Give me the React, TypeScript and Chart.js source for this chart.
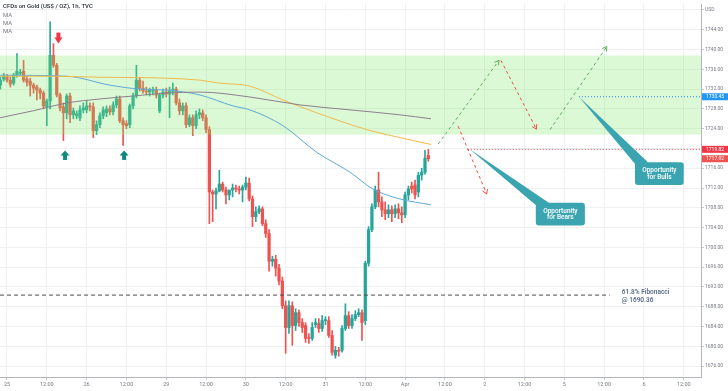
import React, { useEffect, useRef } from 'react';
import { Chart, registerables } from 'chart.js';

Chart.register(...registerables);

// ---------- data ----------
const START_INDEX = -2;

const OPEN = [
  1732.8, 1734.0, 1734.6, 1733.8, 1733.2, 1734.8, 1735.2, 1735.6, 1734.0, 1733.6,
  1732.8, 1732.4, 1731.8, 1731.2, 1728.4, 1729.6, 1738.8, 1736.8, 1730.8, 1728.4,
  1727.2, 1730.6, 1726.8, 1726.6, 1726.2, 1727.8, 1727.8, 1728.6, 1728.4, 1723.6,
  1724.8, 1726.6, 1727.2, 1728.0, 1727.4, 1728.8, 1730.0, 1725.6, 1725.0, 1724.8,
  1728.6, 1730.6, 1733.8, 1732.2, 1731.6, 1731.4, 1731.6, 1731.8, 1727.6, 1730.8,
  1731.4, 1731.0, 1731.6, 1732.0, 1729.2, 1727.6, 1728.6, 1724.8, 1726.2, 1724.6,
  1726.8, 1727.2, 1726.2, 1723.8, 1711.2, 1710.8, 1711.4, 1712.8, 1711.6, 1710.6,
  1711.6, 1712.0, 1711.8, 1711.6, 1712.2, 1713.0, 1709.8, 1706.2, 1707.2, 1707.8,
  1704.8, 1702.8, 1697.2, 1697.6, 1695.8, 1693.2, 1688.2, 1683.8, 1688.2, 1684.2,
  1686.8, 1684.8, 1684.2, 1681.8, 1681.6, 1684.4, 1684.6, 1683.6, 1685.2, 1685.2,
  1682.2, 1678.2, 1679.2, 1679.2, 1683.6, 1686.2, 1684.2, 1685.6, 1686.4, 1686.8,
  1685.2, 1696.8, 1703.6, 1708.2, 1711.6, 1709.2, 1707.6, 1706.8, 1707.6, 1706.8,
  1707.8, 1707.0, 1706.6, 1710.6, 1712.4, 1712.6, 1711.2, 1714.6, 1715.2, 1718.6,
];
const HIGH = [
  1734.4, 1735.2, 1735.0, 1734.4, 1735.2, 1739.2, 1736.0, 1737.8, 1734.6, 1734.2,
  1733.2, 1732.8, 1732.2, 1731.6, 1730.0, 1745.6, 1741.2, 1737.2, 1731.2, 1729.2,
  1731.0, 1731.2, 1728.2, 1727.6, 1728.6, 1729.2, 1729.6, 1729.2, 1729.2, 1725.6,
  1727.2, 1728.4, 1728.6, 1728.6, 1729.4, 1730.6, 1730.6, 1726.2, 1725.6, 1729.0,
  1731.2, 1736.8, 1734.4, 1733.6, 1732.4, 1732.2, 1732.4, 1732.4, 1731.2, 1732.0,
  1732.2, 1732.4, 1733.2, 1732.4, 1730.0, 1729.2, 1729.2, 1726.8, 1726.8, 1727.6,
  1728.0, 1727.8, 1726.8, 1724.4, 1711.6, 1712.0, 1715.6, 1713.2, 1712.2, 1711.6,
  1712.8, 1712.6, 1712.4, 1712.6, 1714.2, 1714.0, 1710.4, 1708.2, 1708.4, 1708.2,
  1705.6, 1703.6, 1698.2, 1698.4, 1696.6, 1694.0, 1689.2, 1689.2, 1689.0, 1687.6,
  1687.4, 1685.6, 1684.8, 1682.6, 1684.8, 1685.6, 1685.6, 1686.2, 1686.0, 1686.0,
  1683.2, 1680.0, 1679.8, 1684.2, 1688.6, 1687.0, 1686.4, 1687.2, 1687.6, 1687.4,
  1697.2, 1704.2, 1708.8, 1712.4, 1715.2, 1710.2, 1709.2, 1708.6, 1708.4, 1708.6,
  1708.8, 1708.2, 1711.2, 1712.4, 1713.2, 1713.6, 1715.2, 1716.0, 1719.6, 1719.82,
];
const LOW = [
  1732.0, 1733.6, 1733.4, 1732.4, 1732.8, 1734.4, 1734.8, 1733.4, 1732.6, 1730.6,
  1731.2, 1729.8, 1730.0, 1728.0, 1724.6, 1728.0, 1736.4, 1730.4, 1727.6, 1721.6,
  1726.0, 1725.2, 1726.0, 1726.0, 1725.6, 1727.2, 1727.2, 1727.6, 1722.2, 1722.8,
  1724.2, 1726.0, 1726.4, 1726.8, 1726.8, 1728.2, 1725.2, 1720.6, 1724.0, 1724.2,
  1728.0, 1730.2, 1731.6, 1731.2, 1730.8, 1730.6, 1730.8, 1730.2, 1727.2, 1730.2,
  1730.4, 1726.2, 1730.8, 1728.8, 1726.8, 1726.8, 1724.2, 1724.4, 1722.6, 1724.0,
  1726.0, 1725.6, 1723.2, 1704.8, 1705.2, 1707.8, 1711.2, 1711.2, 1708.8, 1709.6,
  1710.2, 1711.2, 1710.8, 1709.2, 1711.6, 1709.4, 1704.2, 1705.2, 1706.8, 1704.4,
  1702.0, 1695.2, 1696.2, 1694.2, 1692.4, 1687.6, 1678.6, 1682.6, 1680.2, 1683.2,
  1684.0, 1682.8, 1680.8, 1680.6, 1681.2, 1683.8, 1682.8, 1683.0, 1684.4, 1681.8,
  1678.2, 1677.6, 1678.0, 1678.8, 1683.2, 1683.6, 1683.6, 1685.2, 1686.0, 1681.2,
  1684.4, 1696.2, 1703.2, 1707.8, 1708.2, 1706.2, 1705.6, 1706.0, 1705.2, 1706.0,
  1705.8, 1705.0, 1706.0, 1709.6, 1711.0, 1709.8, 1710.2, 1713.6, 1714.8, 1717.4,
];
const CLOSE = [
  1733.8, 1734.6, 1733.8, 1733.0, 1734.8, 1735.6, 1735.4, 1733.8, 1733.4, 1732.8,
  1732.2, 1731.8, 1731.2, 1728.6, 1729.6, 1738.8, 1736.8, 1730.8, 1728.2, 1727.2,
  1730.6, 1726.8, 1727.6, 1727.0, 1727.8, 1728.2, 1728.6, 1728.4, 1723.6, 1724.8,
  1726.6, 1727.8, 1728.0, 1727.4, 1728.8, 1730.0, 1725.6, 1724.8, 1724.6, 1728.6,
  1730.6, 1733.8, 1732.2, 1731.6, 1731.4, 1731.8, 1731.8, 1730.8, 1730.8, 1731.4,
  1731.0, 1731.6, 1732.0, 1729.2, 1727.6, 1728.6, 1724.8, 1726.2, 1724.6, 1726.8,
  1727.2, 1726.2, 1723.8, 1711.2, 1710.8, 1711.4, 1712.8, 1711.6, 1710.6, 1711.6,
  1712.0, 1711.8, 1711.6, 1712.2, 1713.0, 1709.8, 1706.2, 1707.2, 1707.8, 1704.8,
  1702.8, 1697.2, 1697.6, 1695.8, 1693.2, 1688.2, 1683.8, 1688.2, 1684.2, 1686.8,
  1684.8, 1683.8, 1681.6, 1681.6, 1683.8, 1684.8, 1683.6, 1685.2, 1685.4, 1682.2,
  1678.8, 1679.2, 1679.0, 1683.6, 1686.2, 1684.2, 1685.6, 1686.4, 1686.8, 1684.8,
  1696.8, 1703.6, 1708.2, 1711.6, 1709.2, 1707.6, 1706.8, 1707.6, 1706.8, 1707.8,
  1707.0, 1706.6, 1710.6, 1711.8, 1711.8, 1710.6, 1714.6, 1715.2, 1718.0, 1717.92,
];

const MA_BLUE_X = [-2.1, 18.1, 31.0, 40.1, 48.2, 58.2, 68.1, 73.2, 83.2, 93.4, 103.4, 110.3, 118.4, 127.8];
const MA_BLUE_Y = [1734.8, 1734.6, 1732.8, 1732.0, 1731.8, 1730.8, 1728.6, 1727.8, 1724.6, 1719.2, 1715.2, 1711.8, 1709.8, 1708.6];
const MA_YELLOW_X = [-2.1, 13.0, 28.0, 48.2, 58.2, 64.2, 73.2, 83.2, 93.4, 108.5, 118.4, 127.8];
const MA_YELLOW_Y = [1734.6, 1734.6, 1734.4, 1734.2, 1733.8, 1733.2, 1732.6, 1729.8, 1727.2, 1723.8, 1722.2, 1720.8];
const MA_GRAY_X = [-2.1, 7.8, 18.1, 28.0, 38.0, 48.2, 58.2, 73.2, 88.3, 103.4, 118.4, 127.8];
const MA_GRAY_Y = [1726.2, 1727.6, 1729.2, 1730.0, 1730.6, 1731.2, 1731.4, 1730.4, 1728.8, 1727.8, 1726.8, 1726.0];

const GREEN_PATH_1_X = [130.0, 148.3];
const GREEN_PATH_1_Y = [1720.9, 1737.8];
const RED_PATH_1_X = [148.9, 159.6];
const RED_PATH_1_Y = [1737.8, 1723.9];
const GREEN_PATH_2_X = [163.7, 180.8];
const GREEN_PATH_2_Y = [1723.8, 1740.6];
const RED_PATH_2_X = [136.0, 144.6];
const RED_PATH_2_Y = [1724.5, 1710.8];

const ZONE_LOW = 1722.8;
const ZONE_HIGH = 1738.8;
const FIB_LEVEL = 1690.36;
const FIB_RANGE = [-2.1, 181.7];
const BEAR_LEVEL = 1719.82;
const BEAR_LEVEL_START = 138.9;
const BULL_LEVEL = 1730.45;
const BULL_LEVEL_START = 172.4;
const LAST_PRICE = 1717.92;

const X_MIN = -2.11;
const X_MAX = 209.2;
const Y_MIN = 1673.8;
const Y_MAX = 1749.2;

const X_TICK_INDEX = [0, 12, 24, 36, 48, 60, 72, 84, 96, 108, 120, 132, 144, 156, 168, 180, 192, 204];
const X_TICK_LABELS = ['25', '12:00', '26', '12:00', '29', '12:00', '30', '12:00', '31', '12:00', 'Apr', '12:00', '2', '12:00', '5', '12:00', '6', '12:00'];
const Y_TICKS = [1676, 1680, 1684, 1688, 1692, 1696, 1700, 1704, 1708, 1712, 1716, 1720, 1724, 1728, 1732, 1736, 1740, 1744, 1748];

const BEAR_CALLOUT = { tip: [139.5, 1719.82], box: [159.4, 1709.0, 174.2, 1704.4], text: ['Opportunity', 'for Bears'] };
const BULL_CALLOUT = { tip: [172.4, 1730.45], box: [189.3, 1717.2, 204.0, 1712.6], text: ['Opportunity', 'for Bulls'] };
const DOWN_MARKERS = [[15.5, 1741.2]];
const UP_MARKERS = [[17.5, 1719.6], [35.3, 1719.6]];

const TITLE = 'CFDs on Gold (US$ / OZ), 1h, TVC';
const FIB_TEXT = ['61.8% Fibonacci', '@ 1690.36'];

// ---------- colours ----------
const UP = '#26a69a';
const DOWN = '#ef5350';
const GREEN_DASH = '#5aae55';
const RED_DASH = '#ec4a44';
const CALLOUT = '#3ba4b1';

const pts = (xs: number[], ys: number[]) => xs.map((x, k) => ({ x, y: ys[k] }));

function arrowHead(ctx: CanvasRenderingContext2D, x1: number, y1: number, x2: number, y2: number, color: string) {
  const ang = Math.atan2(y2 - y1, x2 - x1);
  const L = 5;
  ctx.save();
  ctx.strokeStyle = color;
  ctx.lineWidth = 1;
  ctx.setLineDash([]);
  ctx.beginPath();
  ctx.moveTo(x2 - L * Math.cos(ang - 0.55), y2 - L * Math.sin(ang - 0.55));
  ctx.lineTo(x2, y2);
  ctx.lineTo(x2 - L * Math.cos(ang + 0.55), y2 - L * Math.sin(ang + 0.55));
  ctx.stroke();
  ctx.restore();
}

const overlayPlugin = {
  id: 'overlay',
  afterDatasetDraw(chart: any, args: any) {
    if (args.index !== 1) return;
    const { ctx, chartArea: a, scales } = chart;
    const t = scales.y.getPixelForValue(ZONE_HIGH);
    const b = scales.y.getPixelForValue(ZONE_LOW);
    ctx.save();
    ctx.fillStyle = 'rgba(125, 232, 100, 0.28)';
    ctx.fillRect(a.left, t, a.right - a.left, b - t);
    ctx.restore();
  },
  afterDraw(chart: any) {
    const { ctx, scales, chartArea: a } = chart;
    const px = (v: number) => scales.x.getPixelForValue(v);
    const py = (v: number) => scales.y.getPixelForValue(v);
    ctx.save();

    // arrow heads of projections
    const paths: [number[], number[], string][] = [
      [GREEN_PATH_1_X, GREEN_PATH_1_Y, GREEN_DASH],
      [RED_PATH_1_X, RED_PATH_1_Y, RED_DASH],
      [GREEN_PATH_2_X, GREEN_PATH_2_Y, GREEN_DASH],
      [RED_PATH_2_X, RED_PATH_2_Y, RED_DASH],
    ];
    paths.forEach(([xs, ys, c]) => {
      const n = xs.length;
      arrowHead(ctx, px(xs[n - 2]), py(ys[n - 2]), px(xs[n - 1]), py(ys[n - 1]), c);
    });

    // callouts
    [BEAR_CALLOUT, BULL_CALLOUT].forEach((co) => {
      const tx = px(co.tip[0]);
      const ty = py(co.tip[1]);
      const x1 = px(co.box[0]);
      const y1 = py(co.box[1]);
      const x2 = px(co.box[2]);
      const y2 = py(co.box[3]);
      ctx.fillStyle = CALLOUT;
      ctx.beginPath();
      ctx.moveTo(tx, ty);
      ctx.lineTo(x1 + 2, y1 + 4);
      ctx.lineTo(x1 + 13, y1);
      ctx.closePath();
      ctx.fill();
      ctx.beginPath();
      (ctx as any).roundRect(x1, y1, x2 - x1, y2 - y1, 3);
      ctx.fill();
      ctx.fillStyle = '#ffffff';
      ctx.font = '500 6.5px Roboto, sans-serif';
      ctx.textAlign = 'center';
      ctx.textBaseline = 'middle';
      const cx = (x1 + x2) / 2;
      const cy = (y1 + y2) / 2;
      ctx.fillText(co.text[0], cx, cy - 3.2);
      ctx.fillText(co.text[1], cx, cy + 3.4);
    });

    // markers
    ctx.fillStyle = '#f23645';
    DOWN_MARKERS.forEach(([i, v]) => {
      const x = px(i);
      const y = py(v);
      ctx.beginPath();
      ctx.moveTo(x - 4, y - 6);
      ctx.lineTo(x + 4, y - 6);
      ctx.lineTo(x, y);
      ctx.closePath();
      ctx.fill();
      ctx.fillRect(x - 2, y - 11, 4, 5.5);
    });
    ctx.fillStyle = '#0f8a7c';
    UP_MARKERS.forEach(([i, v]) => {
      const x = px(i);
      const y = py(v);
      ctx.beginPath();
      ctx.moveTo(x - 4.5, y + 5);
      ctx.lineTo(x + 4.5, y + 5);
      ctx.lineTo(x, y);
      ctx.closePath();
      ctx.fill();
      ctx.fillRect(x - 2, y + 4.5, 4, 5);
    });

    // fib text
    ctx.fillStyle = '#5b6b88';
    ctx.font = '600 6.5px Roboto, sans-serif';
    ctx.textAlign = 'left';
    ctx.textBaseline = 'middle';
    const fx = px(FIB_RANGE[1]) + 12;
    const fy = py(FIB_LEVEL);
    ctx.fillText(FIB_TEXT[0], fx, fy - 2.7);
    ctx.fillText(FIB_TEXT[1], fx, fy + 4.8);

    // title & legend
    ctx.fillStyle = '#2a2e39';
    ctx.font = '500 6px Roboto, sans-serif';
    ctx.fillText(TITLE, a.left + 3, 6);
    ctx.fillStyle = '#787b86';
    ctx.font = '6px Roboto, sans-serif';
    ctx.fillText('MA', a.left + 3, 15);
    ctx.fillText('MA', a.left + 3, 23.3);
    ctx.fillText('MA', a.left + 3, 31.7);

    // axis price labels
    const labels: [number, string][] = [
      [BULL_LEVEL, '#2196f3'],
      [BEAR_LEVEL, '#f23645'],
      [LAST_PRICE, '#ef5350'],
    ];
    ctx.font = '5px Roboto, sans-serif';
    labels.forEach(([v, c]) => {
      const y = py(v);
      ctx.fillStyle = c;
      ctx.fillRect(a.right + 1, y - 3.5, 27, 7);
      ctx.fillStyle = '#ffffff';
      ctx.fillText(v.toFixed(2), a.right + 5, y + 0.3);
    });
    ctx.restore();
  },
};

export default function App() {
  const ref = useRef<HTMLCanvasElement>(null);

  useEffect(() => {
    document.body.style.margin = '0';
    Chart.defaults.font.family = 'Roboto, sans-serif';
    const idx = OPEN.map((_, k) => START_INDEX + k);
    const colors = idx.map((_, k) => (CLOSE[k] >= OPEN[k] ? UP : DOWN));

    const lineBase = { type: 'line' as const, pointRadius: 0, borderWidth: 1, fill: false };

    const chart = new Chart(ref.current as HTMLCanvasElement, {
      type: 'bar',
      data: {
        datasets: [
          {
            type: 'bar',
            data: idx.map((i, k) => ({ x: i, y: [LOW[k], HIGH[k]] })) as any,
            backgroundColor: colors,
            barThickness: 1,
            grouped: false,
            borderWidth: 0,
            order: 11,
          } as any,
          {
            type: 'bar',
            data: idx.map((i, k) => ({ x: i, y: [OPEN[k], CLOSE[k]] })) as any,
            backgroundColor: colors,
            barThickness: 2.6,
            minBarLength: 1,
            grouped: false,
            borderWidth: 0,
            order: 10,
          } as any,
          { ...lineBase, data: pts(MA_GRAY_X, MA_GRAY_Y), borderColor: '#8b7f8e', cubicInterpolationMode: 'monotone', order: 5 } as any,
          { ...lineBase, data: pts(MA_YELLOW_X, MA_YELLOW_Y), borderColor: '#f2b84b', cubicInterpolationMode: 'monotone', order: 5 } as any,
          { ...lineBase, data: pts(MA_BLUE_X, MA_BLUE_Y), borderColor: '#5fa9d8', cubicInterpolationMode: 'monotone', order: 5 } as any,
          { ...lineBase, data: pts(FIB_RANGE, [FIB_LEVEL, FIB_LEVEL]), borderColor: '#4a4a4a', borderDash: [4, 3], order: 4 } as any,
          { ...lineBase, data: pts([BEAR_LEVEL_START, X_MAX], [BEAR_LEVEL, BEAR_LEVEL]), borderColor: '#f23645', borderDash: [1, 2], order: 4 } as any,
          { ...lineBase, data: pts([BULL_LEVEL_START, X_MAX], [BULL_LEVEL, BULL_LEVEL]), borderColor: '#2979e8', borderDash: [1, 2], order: 4 } as any,
          { ...lineBase, data: pts(GREEN_PATH_1_X, GREEN_PATH_1_Y), borderColor: GREEN_DASH, borderDash: [3, 3], order: 3 } as any,
          { ...lineBase, data: pts(RED_PATH_1_X, RED_PATH_1_Y), borderColor: RED_DASH, borderDash: [3, 3], order: 3 } as any,
          { ...lineBase, data: pts(GREEN_PATH_2_X, GREEN_PATH_2_Y), borderColor: GREEN_DASH, borderDash: [3, 3], order: 3 } as any,
          { ...lineBase, data: pts(RED_PATH_2_X, RED_PATH_2_Y), borderColor: RED_DASH, borderDash: [3, 3], order: 3 } as any,
        ],
      },
      options: {
        responsive: false,
        animation: false,
        devicePixelRatio: 1,
        events: [],
        layout: { padding: 0 },
        plugins: { legend: { display: false }, tooltip: { enabled: false }, title: { display: false } },
        scales: {
          x: {
            type: 'linear',
            min: X_MIN,
            max: X_MAX,
            offset: false,
            afterBuildTicks: (s: any) => {
              s.ticks = X_TICK_INDEX.map((v) => ({ value: v }));
            },
            afterFit: (s: any) => {
              s.height = 14;
            },
            ticks: {
              autoSkip: false,
              maxRotation: 0,
              padding: 1,
              color: '#787b86',
              font: { size: 5.5 },
              callback: (_v: any, i: number) => X_TICK_LABELS[i],
            },
            grid: { color: '#eef0f4', offset: false, tickLength: 3, tickColor: '#c5c8ce' },
            border: { color: '#b2b5be' },
          },
          y: {
            type: 'linear',
            position: 'right',
            min: Y_MIN,
            max: Y_MAX,
            afterBuildTicks: (s: any) => {
              s.ticks = Y_TICKS.map((v) => ({ value: v }));
            },
            afterFit: (s: any) => {
              s.width = 27;
            },
            ticks: {
              padding: 1,
              color: '#787b86',
              font: { size: 5 },
              callback: (v: any) => (v === 1748 ? 'USD' : Number(v).toFixed(2)),
            },
            grid: { color: '#eef0f4', tickLength: 3, tickColor: '#c5c8ce' },
            border: { color: '#b2b5be' },
          },
        },
      } as any,
      plugins: [overlayPlugin],
    });
    return () => chart.destroy();
  }, []);

  return (
    <div style={{ width: 728, height: 391 }}>
      <canvas ref={ref} width={728} height={391} style={{ display: 'block' }} />
    </div>
  );
}
